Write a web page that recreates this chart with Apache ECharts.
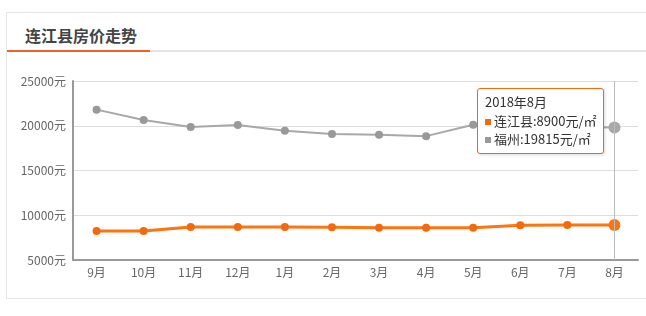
<!DOCTYPE html>
<html><head><meta charset="utf-8">
<script src="https://cdn.jsdelivr.net/npm/echarts@6/dist/echarts.min.js"></script>
<style>
html,body{margin:0;padding:0;width:646px;height:316px;overflow:hidden;background:#fff;font-family:"Noto Sans CJK SC",sans-serif;}
#box{position:absolute;left:6px;top:12px;width:660px;height:287px;border:1px solid #e6e6e6;box-sizing:border-box;}
#title{position:absolute;left:25px;top:24px;font-size:16px;line-height:22px;color:#444;font-weight:bold;letter-spacing:0px;}
#uline{position:absolute;left:7px;top:50px;width:660px;height:2px;background:#e3e3e3;}
#uorange{position:absolute;left:7px;top:50px;width:143px;height:2px;background:#f0622c;}
#chart{position:absolute;left:0;top:0;width:646px;height:316px;}
</style></head>
<body>
<div id="box"></div>
<div id="title">连江县房价走势</div>
<div id="uline"></div><div id="uorange"></div>
<div id="chart"></div>
<script>
const categories = ['9月','10月','11月','12月','1月','2月','3月','4月','5月','6月','7月','8月'];
const fullMonths = ['2017年9月','2017年10月','2017年11月','2017年12月','2018年1月','2018年2月','2018年3月','2018年4月','2018年5月','2018年6月','2018年7月','2018年8月'];
const lianjiang = [8240, 8240, 8690, 8690, 8690, 8650, 8610, 8610, 8610, 8890, 8900, 8900];
const fuzhou = [21800, 20650, 19860, 20080, 19440, 19070, 18990, 18840, 20120, 19900, 19850, 19815];
const yTicks = [5000, 10000, 15000, 20000, 25000];
const seriesNames = ['连江县', '福州'];
const colors = ['#f26a0e', '#999999'];

const chart = echarts.init(document.getElementById('chart'), null, {renderer:'canvas'});
chart.setOption({
  animation: false,
  textStyle: {fontFamily: '"Noto Sans CJK SC", sans-serif'},
  grid: {left: 73, right: 8, top: 81, bottom: 56, containLabel: false},
  tooltip: {
    trigger: 'axis',
    alwaysShowContent: true,
    backgroundColor: '#fff',
    borderColor: '#f26a0e',
    borderWidth: 1,
    borderRadius: 3,
    padding: [4, 7],
    extraCssText: 'box-shadow:1px 1px 3px rgba(0,0,0,0.15);width:111px;',
    textStyle: {color: '#333', fontSize: 13},
    axisPointer: {type: 'line', lineStyle: {color: '#bbb', width: 1, type: 'solid'}},
    position: function () { return [477, 88]; },
    formatter: function (params) {
      let s = '<div style="line-height:18.5px;font-size:13px;color:#333;white-space:nowrap">' + fullMonths[params[0].dataIndex];
      params.forEach(function (p) {
        s += '<br/><span style="display:inline-block;width:6px;height:6px;background:' + colors[p.seriesIndex] + ';margin-right:3px;vertical-align:1px"></span>' +
          p.seriesName + ':' + p.value + '元/㎡';
      });
      return s + '</div>';
    }
  },
  xAxis: {
    type: 'category',
    data: categories,
    boundaryGap: true,
    axisLine: {lineStyle: {color: '#999', width: 2}},
    axisTick: {show: false},
    axisLabel: {color: '#666', fontSize: 12, margin: 6}
  },
  yAxis: {
    type: 'value',
    min: yTicks[0],
    max: yTicks[yTicks.length - 1],
    interval: 5000,
    axisLine: {show: true, lineStyle: {color: '#999', width: 2}},
    axisTick: {show: false},
    splitLine: {lineStyle: {color: '#ddd'}},
    axisLabel: {color: '#666', fontSize: 12, margin: 7, formatter: function (v) { return v + '元'; }}
  },
  series: [
    {
      name: seriesNames[0], type: 'line', data: lianjiang,
      symbol: 'circle', symbolSize: 8, showAllSymbol: true,
      lineStyle: {color: colors[0], width: 3},
      itemStyle: {color: colors[0]},
      emphasis: {scale: 1.5}
    },
    {
      name: seriesNames[1], type: 'line', data: fuzhou,
      symbol: 'circle', symbolSize: 8, showAllSymbol: true,
      lineStyle: {color: colors[1], width: 2},
      itemStyle: {color: colors[1]},
      emphasis: {scale: 1.5}
    }
  ]
});
chart.dispatchAction({type: 'showTip', seriesIndex: 0, dataIndex: 11});
</script>
</body></html>
